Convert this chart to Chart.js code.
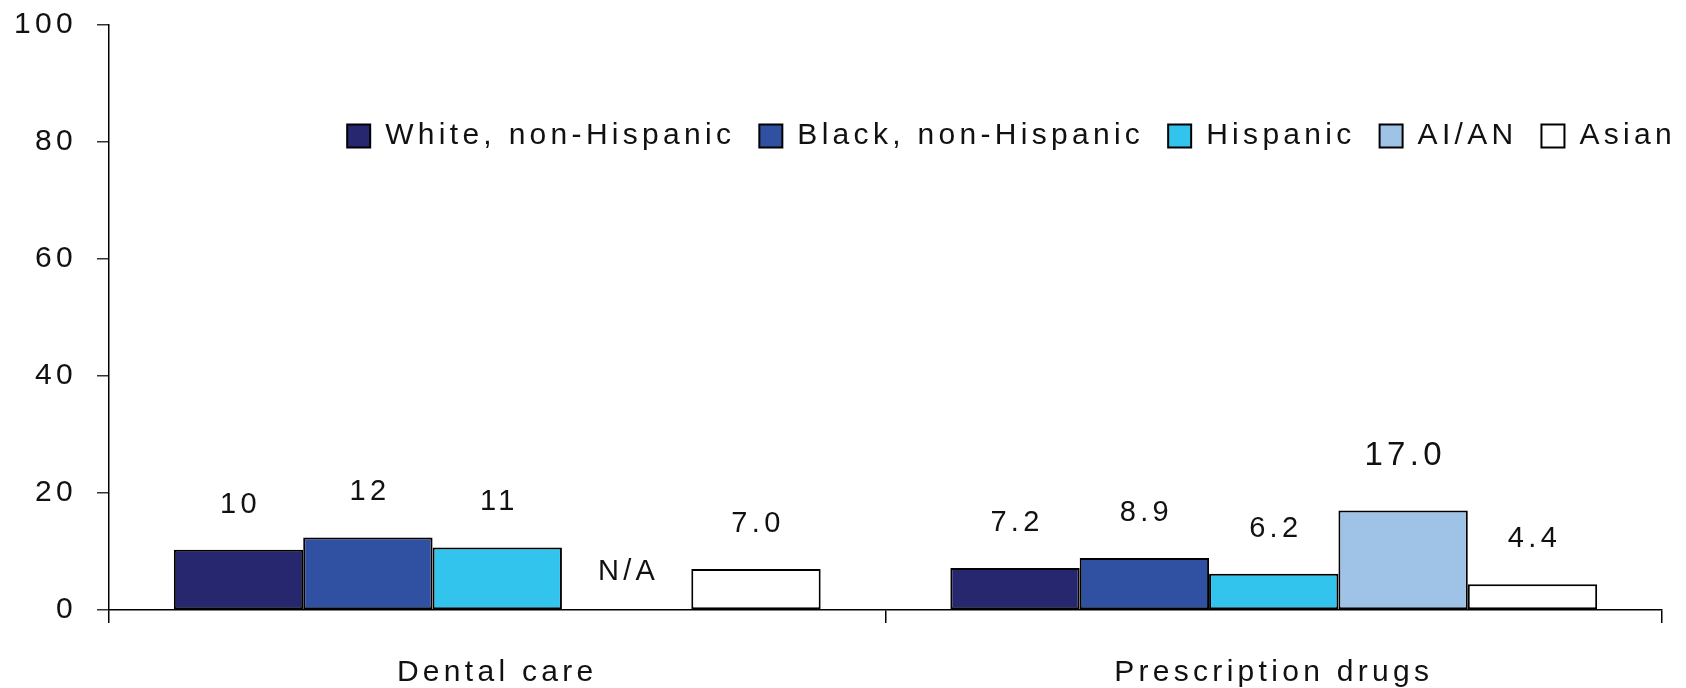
<!DOCTYPE html>
<html>
<head>
<meta charset="utf-8">
<script src="https://cdn.jsdelivr.net/npm/chart.js@4.4.1/dist/chart.umd.min.js"></script>
<style>
  html, body { margin: 0; padding: 0; background: #fff; }
  canvas { display: block; }
</style>
</head>
<body>
<canvas id="chart" width="1686" height="688"></canvas>
<script>
// Chart data
const categories = ['Dental care', 'Prescription drugs'];
const seriesNames = ['White, non-Hispanic', 'Black, non-Hispanic', 'Hispanic', 'AI/AN', 'Asian'];
const whiteValues = [10.3, 7.2];
const blackValues = [12.4, 8.9];
const hispanicValues = [10.7, 6.2];
const aianValues = [null, 17.0];
const asianValues = [7.0, 4.4];
const whiteLabels = ['10', '7.2'];
const blackLabels = ['12', '8.9'];
const hispanicLabels = ['11', '6.2'];
const aianLabels = ['N/A', '17.0'];
const asianLabels = ['7.0', '4.4'];
const yTicks = [0, 20, 40, 60, 80, 100];

const seriesColors = ['#27276f', '#3050a2', '#33c4ee', '#9ec3e6', '#ffffff'];
const FONT = '"Liberation Sans", Arial, Helvetica, sans-serif';
const SPACING = '4.3px';

const allValues = [whiteValues, blackValues, hispanicValues, aianValues, asianValues];
const allLabels = [whiteLabels, blackLabels, hispanicLabels, aianLabels, asianLabels];

/**
 * Letter spacing on the canvas context (Chart.js has no option for it)
 */
const spacingPlugin = {
    id: 'spacing',
    beforeUpdate(chart) { chart.ctx.letterSpacing = SPACING; },
    beforeDraw(chart) { chart.ctx.letterSpacing = SPACING; }
};

/**
 * Legend sits inside the plot: take no layout height, then move it down
 */
const legendShift = {
    id: 'legendShift',
    afterInit(chart) {
        const lg = chart.legend;
        const fit = lg.fit;
        lg.fit = function () {
            fit.call(this);
            this._fullHeight = this.height;
            this.height = 0;
        };
    },
    afterLayout(chart) {
        const lg = chart.legend;
        const dx = 38, dy = 72;
        lg.left += dx;
        lg.right += dx;
        lg.top += dy;
        lg.height = lg._fullHeight;
        lg.bottom = lg.top + lg.height;
    }
};

/**
 * Value labels above the bars
 */
const valueLabels = {
    id: 'valueLabels',
    afterDatasetsDraw(chart) {
        const ctx = chart.ctx;
        const y0 = chart.scales.y.getPixelForValue(0);
        ctx.save();
        ctx.letterSpacing = SPACING;
        ctx.fillStyle = '#111';
        ctx.textAlign = 'center';
        ctx.textBaseline = 'middle';
        allLabels.forEach((labels, di) => {
            const meta = chart.getDatasetMeta(di);
            labels.forEach((text, i) => {
                const bar = meta.data[i];
                const v = allValues[di][i];
                const big = text === '17.0';
                ctx.font = (big ? 33 : 29) + 'px ' + FONT;
                let y;
                if (v === null) y = y0 - 38;
                else y = bar.y - (big ? 55 : 45);
                ctx.fillText(text, bar.x + 2, y);
            });
        });
        ctx.restore();
    }
};

const datasets = seriesNames.map((name, i) => ({
    label: name,
    data: allValues[i],
    backgroundColor: seriesColors[i],
    borderColor: '#000',
    borderWidth: 2,
    borderSkipped: false,
    categoryPercentage: 0.833,
    barPercentage: 1.0
}));

new Chart(document.getElementById('chart'), {
    type: 'bar',
    data: { labels: categories, datasets: datasets },
    plugins: [spacingPlugin, legendShift, valueLabels],
    options: {
        responsive: false,
        animation: false,
        layout: { padding: { top: 25, right: 24, left: 0, bottom: 0 } },
        plugins: {
            tooltip: { enabled: false },
            legend: {
                position: 'top',
                align: 'end',
                labels: {
                    boxWidth: 23,
                    boxHeight: 23,
                    padding: 24,
                    color: '#111',
                    font: { family: FONT, size: 30 }
                }
            }
        },
        scales: {
            x: {
                afterFit(scale) { scale.height = 78; },
                border: { color: '#000', width: 1.5 },
                grid: { drawOnChartArea: false, tickLength: 13, color: '#000', lineWidth: 1.5 },
                ticks: { color: '#111', padding: 32, font: { family: FONT, size: 30 } }
            },
            y: {
                min: 0,
                max: 100,
                afterFit(scale) {
                    scale.width = 109;
                    scale.paddingTop = 0;
                    scale.paddingBottom = 0;
                },
                afterBuildTicks(scale) { scale.ticks = yTicks.map(v => ({ value: v })); },
                border: { color: '#000', width: 1.5 },
                grid: { drawOnChartArea: false, tickLength: 12, color: '#333', lineWidth: 1.5 },
                ticks: { color: '#111', padding: 20, font: { family: FONT, size: 30 } }
            }
        }
    }
});
</script>
</body>
</html>
